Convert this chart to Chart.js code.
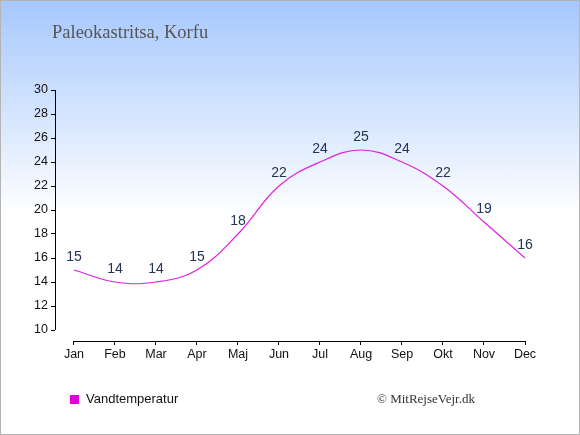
<!DOCTYPE html>
<html>
<head>
<meta charset="utf-8">
<script src="https://cdn.jsdelivr.net/npm/chart.js@4/dist/chart.umd.min.js"></script>
<style>
  html, body { margin: 0; padding: 0; }
  #wrap {
    position: relative; width: 578px; height: 433px;
    border: 1px solid #b4b4b4;
    background: linear-gradient(#a6c8fd 0px, #ffffff 215px, #ffffff 100%);
    overflow: hidden;
  }
  #myChart { position: absolute; left: -1px; top: -1px; }
  #title {
    position: absolute; left: 51px; top: 21px;
    font-family: "Liberation Serif", serif; font-size: 18.5px; color: #555;
  }
  #legend {
    position: absolute; left: 69px; top: 390px;
    font-family: "Liberation Sans", Arial, sans-serif; font-size: 13px; color: #111;
  }
  #legend span.box {
    display: inline-block; width: 9px; height: 9px; background: #dd00dd;
    margin-right: 7px; vertical-align: -1px;
  }
  #copy {
    position: absolute; left: 376px; top: 390px;
    font-family: "Liberation Serif", serif; font-size: 13px; color: #333;
  }
</style>
</head>
<body>
<div id="wrap">
  <canvas id="myChart" width="580" height="435"></canvas>
  <div id="title">Paleokastritsa, Korfu</div>
  <div id="legend"><span class="box"></span>Vandtemperatur</div>
  <div id="copy">© MitRejseVejr.dk</div>
</div>
<script>
const months = ['Jan', 'Feb', 'Mar', 'Apr', 'Maj', 'Jun', 'Jul', 'Aug', 'Sep', 'Okt', 'Nov', 'Dec'];
const waterTemp = [15, 14, 14, 15, 18, 22, 24, 25, 24, 22, 19, 16];
const yTicks = [10, 12, 14, 16, 18, 20, 22, 24, 26, 28, 30];

// axis lines only span the data range, like the original
const axisLines = {
    id: 'axisLines',
    afterDraw(chart) {
        const ctx = chart.ctx;
        const x = chart.scales.x, y = chart.scales.y;
        const a = chart.chartArea;
        ctx.save();
        ctx.strokeStyle = '#000';
        ctx.lineWidth = 1;
        ctx.beginPath();
        ctx.moveTo(a.left + 0.5, y.getPixelForValue(yTicks[0]));
        ctx.lineTo(a.left + 0.5, y.getPixelForValue(yTicks[yTicks.length - 1]));
        ctx.moveTo(x.getPixelForValue(0), a.bottom + 0.5);
        ctx.lineTo(x.getPixelForValue(months.length - 1), a.bottom + 0.5);
        ctx.stroke();
        ctx.restore();
    }
};

// value labels above each point
const valueLabels = {
    id: 'valueLabels',
    afterDatasetsDraw(chart) {
        const ctx = chart.ctx;
        const meta = chart.getDatasetMeta(0);
        ctx.save();
        ctx.fillStyle = '#223355';
        ctx.font = '14px "Liberation Sans", Arial, sans-serif';
        ctx.textAlign = 'center';
        ctx.textBaseline = 'middle';
        meta.data.forEach((pt, i) => {
            ctx.fillText(waterTemp[i], pt.x, pt.y - 13);
        });
        ctx.restore();
    }
};

var ctx = document.getElementById('myChart');
var myChart = new Chart(ctx, {
    type: 'line',
    data: {
        datasets: [{
            label: 'Vandtemperatur',
            data: waterTemp.map((v, i) => ({ x: i, y: v })),
            borderColor: '#e020e0',
            borderWidth: 1.2,
            pointRadius: 0,
            tension: 0.4,
            fill: false
        }]
    },
    options: {
        responsive: false,
        animation: false,
        layout: { padding: { left: 0, top: 90, right: 55, bottom: 0 } },
        plugins: { legend: { display: false }, tooltip: { enabled: false } },
        scales: {
            x: {
                type: 'linear',
                min: -0.4634,
                max: 11,
                afterBuildTicks: (s) => { s.ticks = months.map((m, i) => ({ value: i })); },
                afterFit: (s) => { s.height = 94; },
                border: { display: false },
                grid: { drawOnChartArea: false, drawTicks: true, tickLength: 4, color: '#000' },
                ticks: {
                    callback: (v) => months[v],
                    color: '#111',
                    padding: 2,
                    maxRotation: 0,
                    autoSkip: false,
                    font: { family: '"Liberation Sans", Arial, sans-serif', size: 12.5 }
                }
            },
            y: {
                min: 10 - 11 / 12,
                max: 30,
                afterBuildTicks: (s) => { s.ticks = yTicks.map(v => ({ value: v })); },
                afterFit: (s) => { s.width = 55; },
                border: { display: false },
                grid: { drawOnChartArea: false, drawTicks: true, tickLength: 4, color: '#000' },
                ticks: {
                    color: '#111',
                    padding: 3,
                    font: { family: '"Liberation Sans", Arial, sans-serif', size: 12.5 }
                }
            }
        }
    },
    plugins: [axisLines, valueLabels]
});
</script>
</body>
</html>
